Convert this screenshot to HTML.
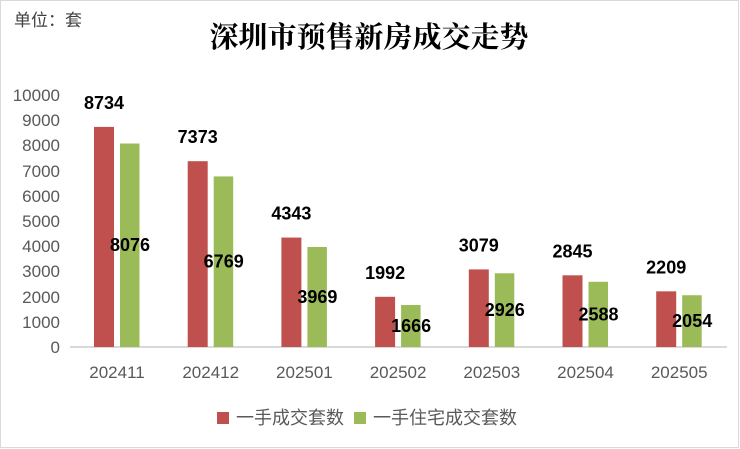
<!DOCTYPE html>
<html><head><meta charset="utf-8"><style>
html,body{margin:0;padding:0;background:#fff;}
svg{display:block;font-family:"Liberation Sans","Noto Sans CJK SC",sans-serif;}
</style></head><body>
<svg width="740" height="449" viewBox="0 0 740 449" xmlns="http://www.w3.org/2000/svg">
<rect x="0.5" y="0.5" width="738" height="447" fill="#fff" stroke="#d9d9d9"/>
<text x="14" y="26" font-size="17" fill="#404040" font-family="Noto Sans CJK SC, sans-serif">单位：套</text>
<text x="369" y="47" font-size="29" font-weight="bold" fill="#000" text-anchor="middle" font-family="Noto Serif CJK SC, serif">深圳市预售新房成交走势</text>
<g font-size="17" fill="#595959" text-anchor="end">
<text x="60" y="101">10000</text><text x="60" y="126">9000</text><text x="60" y="151">8000</text>
<text x="60" y="177">7000</text><text x="60" y="202">6000</text><text x="60" y="227">5000</text>
<text x="60" y="252">4000</text><text x="60" y="277">3000</text><text x="60" y="303">2000</text>
<text x="60" y="328">1000</text><text x="60" y="353">0</text>
</g>
<line x1="70" y1="347" x2="727" y2="347" stroke="#d9d9d9" stroke-width="2"/>
<g id="bars"></g>
<g id="labels" font-size="18" font-weight="bold" fill="#000" text-anchor="middle"></g>
<g id="cats" font-size="17" fill="#595959" text-anchor="middle"></g>
<rect x="217" y="412" width="12" height="12" fill="#c0504d"/>
<text x="236" y="424" font-size="18" fill="#595959" font-family="Noto Sans CJK SC, sans-serif">一手成交套数</text>
<rect x="354" y="412" width="12" height="12" fill="#9bbb59"/>
<text x="373" y="424" font-size="18" fill="#595959" font-family="Noto Sans CJK SC, sans-serif">一手住宅成交套数</text>
<script>
var cats=["202411","202412","202501","202502","202503","202504","202505"];
var a=[8734,7373,4343,1992,3079,2845,2209],b=[8076,6769,3969,1666,2926,2588,2054];
var ns="http://www.w3.org/2000/svg",k=0.0252;
function el(p,t,at,tx){var e=document.createElementNS(ns,t);for(var q in at)e.setAttribute(q,at[q]);if(tx)e.textContent=tx;document.getElementById(p).appendChild(e);}
for(var i=0;i<7;i++){var c=117+i*93.7;
var ha=a[i]*k,hb=b[i]*k;
el("bars","rect",{x:c-23,y:347-ha,width:20,height:ha,fill:"#c0504d"});
el("bars","rect",{x:c+3,y:347-hb,width:19.5,height:hb,fill:"#9bbb59"});
el("labels","text",{x:c-13,y:347-ha-18},String(a[i]));
el("labels","text",{x:c+13,y:347-hb/2+6},String(b[i]));
el("cats","text",{x:c,y:378},cats[i]);}
</script>
</svg>
</body></html>
